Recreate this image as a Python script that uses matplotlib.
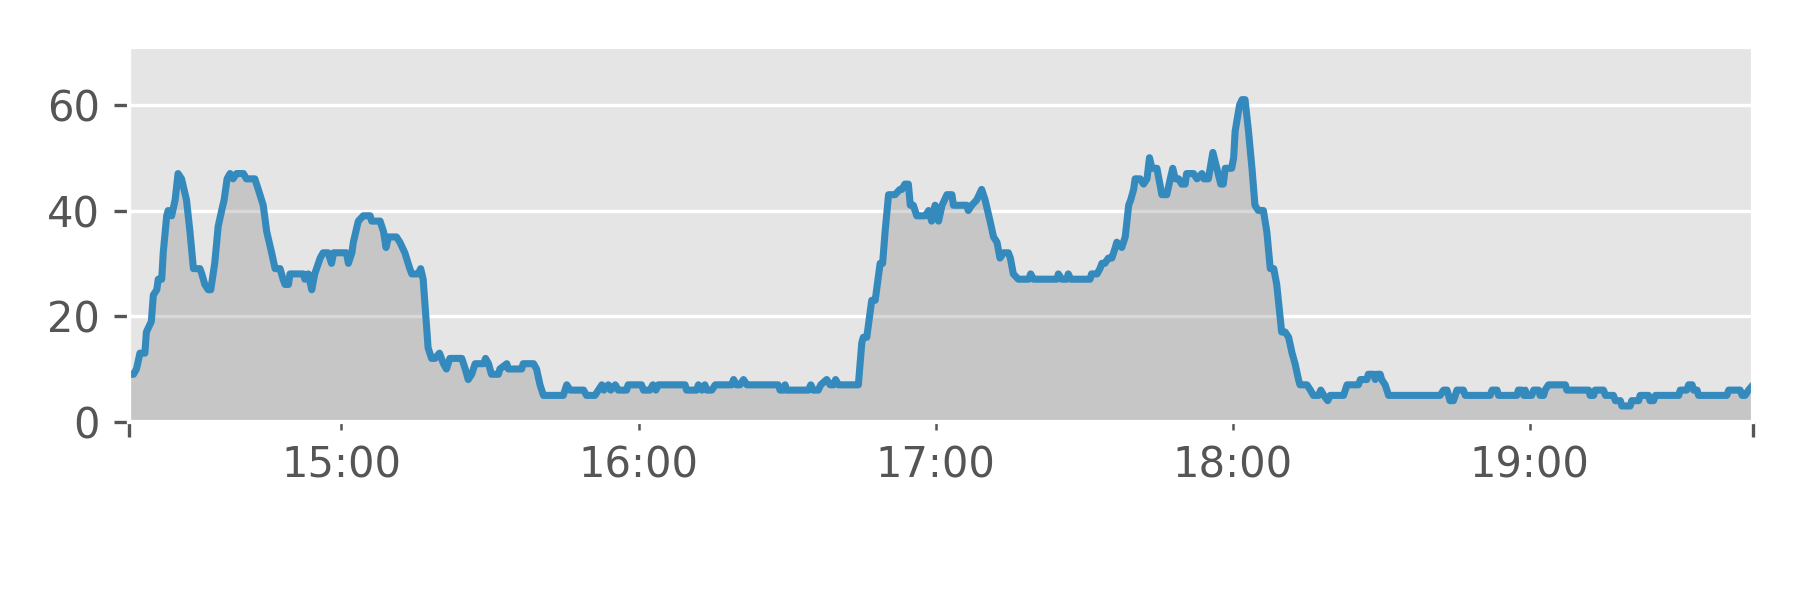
import numpy as np
import pandas as pd
import matplotlib
matplotlib.use("Agg")
import matplotlib.pyplot as plt
import matplotlib.dates as mdates
from matplotlib.ticker import FixedLocator, NullFormatter

# minutes after 14:00 and the reading at that moment
minutes = [
    17.1, 18.0, 18.6, 19.3, 20.3, 20.6, 21.6, 22.0, 22.7, 23.0, 23.7, 24.0,
    24.7, 25.0, 25.7, 26.4, 27.0, 27.7, 28.7, 29.4, 30.1, 31.4, 31.8, 32.4,
    33.1, 33.6, 34.4, 35.1, 35.8, 36.3, 36.9, 37.5, 38.1, 38.8, 40.2, 40.8,
    42.5, 43.2, 44.2, 44.9, 45.9, 46.6, 47.6, 48.2, 48.6, 49.3, 49.6, 52.3,
    52.6, 53.3, 54.0, 54.6, 55.7, 56.3, 57.3, 58.0, 58.4, 61.0, 61.4, 62.1,
    62.4, 63.4, 64.4, 65.8, 66.1, 67.8, 68.5, 69.0, 69.5, 71.1, 71.8, 72.8,
    73.8, 74.2, 75.5, 76.0, 76.5, 77.5, 78.2, 78.9, 79.8, 80.6, 81.2, 81.9,
    84.3, 85.0, 85.6, 86.3, 87.0, 88.7, 89.1, 89.7, 90.3, 91.7, 92.0, 93.4,
    93.7, 96.4, 96.7, 98.8, 99.4, 100.1, 100.8, 104.8, 105.5, 106.2, 108.9, 109.5,
    111.2, 111.9, 112.6, 113.0, 113.9, 114.4, 115.3, 115.9, 117.6, 117.9, 120.6, 121.0,
    122.3, 122.9, 123.5, 124.0, 129.4, 129.7, 131.7, 132.1, 132.8, 133.4, 133.8, 134.8,
    135.5, 138.8, 139.2, 139.8, 140.5, 141.2, 141.9, 148.2, 148.6, 149.3, 149.6, 149.9,
    154.3, 154.8, 155.3, 156.3, 156.8, 158.0, 158.7, 159.4, 159.8, 160.4, 164.4, 165.1,
    165.4, 166.1, 166.8, 167.1, 167.8, 168.5, 168.8, 169.3, 169.8, 170.5, 171.8, 172.8,
    173.2, 173.8, 174.5, 174.9, 175.5, 176.2, 177.9, 178.6, 179.2, 179.9, 180.6, 181.3,
    182.3, 183.3, 183.6, 186.3, 186.6, 187.3, 188.3, 189.3, 190.0, 191.0, 191.7, 192.4,
    193.0, 193.7, 194.7, 195.1, 195.7, 196.7, 198.8, 199.2, 199.8, 204.5, 204.8, 205.5,
    206.5, 206.8, 207.3, 211.2, 211.5, 212.6, 213.2, 213.6, 214.2, 214.9, 215.6, 216.3,
    216.6, 217.6, 218.3, 219.0, 219.4, 220.0, 220.3, 221.3, 222.0, 222.7, 223.2, 223.7,
    224.7, 225.7, 226.7, 227.4, 227.9, 228.4, 229.1, 229.7, 230.4, 230.7, 232.1, 232.8,
    233.8, 234.2, 235.1, 236.0, 236.8, 237.6, 238.1, 238.5, 239.8, 240.2, 240.5, 241.4,
    241.9, 242.5, 243.2, 243.9, 244.5, 245.2, 246.2, 246.9, 247.6, 248.3, 248.9, 249.9,
    250.6, 251.3, 252.0, 252.6, 253.3, 253.6, 255.0, 255.7, 256.3, 257.3, 257.8, 258.4,
    259.2, 259.7, 262.4, 263.1, 265.4, 265.8, 267.1, 267.4, 268.5, 268.8, 269.1, 269.8,
    270.1, 270.8, 271.5, 281.9, 282.6, 283.3, 283.9, 284.6, 285.3, 286.6, 287.0, 292.0,
    292.4, 293.4, 293.7, 297.4, 297.7, 298.4, 298.8, 299.1, 299.4, 300.4, 300.8, 301.8,
    302.1, 302.8, 303.1, 303.8, 307.2, 307.5, 311.9, 312.2, 312.9, 313.2, 314.9, 315.3,
    316.9, 317.3, 318.3, 318.6, 320.3, 320.6, 322.0, 322.3, 324.0, 324.3, 325.0, 325.4,
    330.1, 330.4, 331.7, 332.1, 332.8, 333.1, 333.8, 334.1, 339.8, 340.2, 342.5, 342.9,
    343.5, 344.2, 345.1,
]
values = [
    9, 9, 10, 13, 13, 17, 19, 24, 25, 27, 27, 32,
    39, 40, 39, 42, 47, 46, 42, 36, 29, 29, 28, 26,
    25, 25, 30, 37, 40, 42, 46, 47, 46, 47, 47, 46,
    46, 44, 41, 36, 32, 29, 29, 27, 26, 26, 28, 28,
    27, 28, 25, 28, 31, 32, 32, 30, 32, 32, 30, 32,
    34, 38, 39, 39, 38, 38, 36, 33, 35, 35, 34, 32,
    29, 28, 28, 29, 27, 14, 12, 12, 13, 11, 10, 12,
    12, 10, 8, 9, 11, 11, 12, 11, 9, 9, 10, 11,
    10, 10, 11, 11, 10, 7, 5, 5, 7, 6, 6, 5,
    5, 6, 7, 6, 7, 6, 7, 6, 6, 7, 7, 6,
    6, 7, 6, 7, 7, 6, 6, 7, 6, 7, 6, 6,
    7, 7, 8, 7, 7, 8, 7, 7, 6, 6, 7, 6,
    6, 7, 6, 6, 7, 8, 7, 7, 8, 7, 7, 15,
    16, 16, 21, 23, 23, 28, 30, 30, 36, 43, 43, 44,
    44, 45, 45, 41, 41, 39, 39, 40, 38, 41, 38, 41,
    43, 43, 41, 41, 40, 41, 42, 44, 42, 38, 35, 34,
    31, 32, 32, 31, 28, 27, 27, 28, 27, 27, 28, 27,
    27, 28, 27, 27, 28, 28, 29, 30, 30, 31, 31, 33,
    34, 33, 35, 41, 42, 44, 46, 46, 45, 46, 50, 48,
    48, 43, 43, 46, 48, 46, 46, 45, 45, 47, 47, 46,
    47, 46, 46, 51, 48, 45, 45, 48, 48, 50, 55, 60,
    61, 61, 55, 48, 41, 40, 40, 36, 29, 29, 26, 17,
    17, 16, 13, 11, 8, 7, 7, 6, 5, 5, 6, 5,
    4, 5, 5, 7, 7, 8, 8, 9, 9, 8, 9, 9,
    8, 7, 5, 5, 6, 6, 4, 4, 6, 6, 5, 5,
    6, 6, 5, 5, 6, 6, 5, 6, 5, 5, 6, 6,
    5, 5, 6, 7, 7, 6, 6, 5, 5, 6, 6, 5,
    5, 4, 4, 3, 3, 4, 4, 5, 5, 4, 4, 5,
    5, 6, 6, 7, 7, 6, 6, 5, 5, 6, 6, 5,
    5, 6, 7,
]
y_ticks = [0, 20, 40, 60]

plt.style.use("ggplot")

times = (pd.Timestamp("2024-01-01 14:00")
         + pd.to_timedelta(minutes, unit="min")).values

fig, ax = plt.subplots(figsize=(6, 2), dpi=300)
fig.subplots_adjust(left=0.0717, right=0.9739, bottom=0.297, top=0.922)

ax.fill_between(times, 0, values, color="gray", alpha=0.3, linewidth=0)
ax.plot(times, values, color="#348ABD", linewidth=1.7,
        solid_capstyle="round", solid_joinstyle="round")

ax.set_ylim(0, 71)
ax.set_yticks(y_ticks)

t0 = mdates.date2num(times[0])
t1 = mdates.date2num(times[-1])
ax.set_xlim(t0, t1)
ax.xaxis.set_major_locator(FixedLocator([t0, t1]))
ax.xaxis.set_major_formatter(NullFormatter())
ax.xaxis.set_minor_locator(mdates.HourLocator())
ax.xaxis.set_minor_formatter(mdates.DateFormatter("%H:%M"))

plt.savefig("out.png", dpi=300)
plt.close()
